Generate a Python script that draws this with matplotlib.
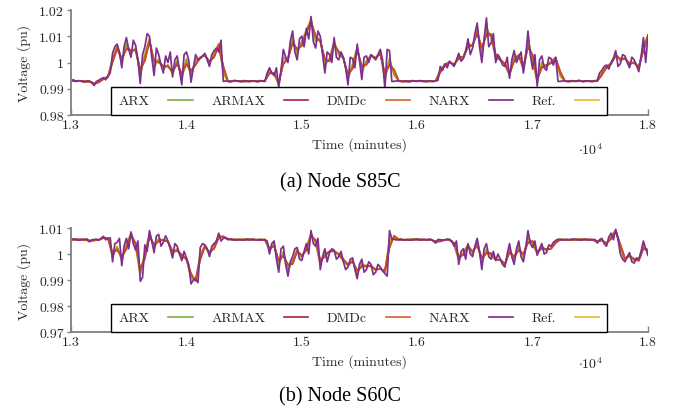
import numpy as np
import matplotlib
matplotlib.use("Agg")
import matplotlib.pyplot as plt
from matplotlib.ticker import FixedLocator, FuncFormatter

# Sampling instants (minutes): linear models logged every 40 min, NARX every 20 min
time_min = np.arange(13000, 18001, 40)
time_fine = np.arange(13000, 18001, 20)

# Node voltages as deviation from 1 pu, in units of 1e-4 pu
s85c_arx = [-67, -70, -71, -72, -72, -82, -73, -61, -55, 12,
            60, 2, 68, 38, 53, -46, 28, 88, -15, 12,
            -24, -10, -41, 6, -58, 12, -49, 7, 19, 29,
            -3, 30, 70, -38, -71, -71, -70, -72, -72, -71,
            -70, -70, -72, -33, -43, -82, 16, 12, 92, 35,
            80, 120, 160, 82, 88, -8, 14, 78, 30, 17,
            -60, -8, 55, -34, 5, 28, 15, 40, -66, 12,
            -46, -71, -71, -72, -70, -70, -71, -71, -72, -70,
            -30, -8, 2, -10, 22, 20, 70, 63, 125, 35,
            130, 96, 18, 11, -8, -48, 20, 26, -25, 84,
            8, -72, -2, -17, 4, 18, -50, -71, -71, -72,
            -70, -71, -72, -71, -70, -41, -15, -3, 33, 7,
            18, -9, 3, -24, 65, 100]
s85c_armax = [-69, -72, -70, -72, -73, -80, -76, -64, -56, 0,
              52, 16, 50, 48, 45, -24, 6, 80, 8, 0,
              -13, -15, -33, -6, -42, -7, -31, -9, 18, 27,
              5, 20, 63, -14, -71, -72, -70, -71, -72, -70,
              -72, -71, -70, -42, -40, -74, -6, 15, 72, 52,
              64, 114, 154, 102, 80, 14, 4, 66, 43, 16,
              -44, -24, 46, -13, -9, 25, 18, 33, -42, -10,
              -27, -70, -71, -73, -71, -70, -72, -71, -71, -71,
              -38, -12, 0, -6, 14, 22, 58, 66, 110, 57,
              104, 108, 32, 8, -3, -40, 4, 28, -16, 58,
              30, -62, -20, -9, -3, 16, -35, -70, -72, -70,
              -70, -72, -70, -72, -71, -48, -20, -6, 25, 15,
              14, -2, -2, -16, 44, 98]
s85c_dmdc = [-68, -71, -71, -73, -72, -82, -75, -62, -54, 5,
             58, 12, 55, 46, 49, -29, 11, 86, 3, 2,
             -16, -14, -36, -3, -47, -4, -35, -7, 20, 28,
             3, 24, 68, -19, -72, -71, -71, -72, -71, -71,
             -71, -70, -71, -38, -40, -79, -1, 18, 78, 49,
             69, 120, 159, 97, 84, 9, 6, 72, 40, 17,
             -48, -20, 51, -18, -7, 28, 17, 36, -48, -6,
             -31, -71, -72, -72, -70, -71, -71, -72, -72, -70,
             -34, -9, 2, -8, 18, 22, 64, 67, 117, 53,
             111, 108, 26, 10, -5, -44, 8, 29, -19, 64,
             26, -67, -15, -11, -1, 18, -40, -71, -71, -71,
             -69, -71, -71, -71, -70, -44, -17, -4, 29, 13,
             15, -4, -1, -19, 50, 102]
s85c_narx = [-68, -66, -72, -69, -70, -73, -74, -70, -71, -75,
             -88, -72, -68, -62, -58, -66, -52, -40, 35, 60,
             70, 40, -20, 60, 95, 50, 20, 85, 65, 10,
             -80, 30, 60, 110, 100, 20, -50, 55, 30, -10,
             -40, 25, 0, 40, -55, 10, 25, -30, -85, 30,
             40, 10, -75, -20, 30, 10, 15, 25, 35, 10,
             -15, 30, 45, 55, 40, 85, -72, -70, -72, -74,
             -70, -68, -71, -72, -73, -69, -70, -73, -72, -70,
             -71, -74, -69, -71, -72, -40, -20, -40, -50, -20,
             -95, -30, 50, 20, 0, 80, 120, 40, 10, 90,
             100, 60, 130, 90, 175, 80, 55, 120, 100, 30,
             -40, 40, 30, 0, 95, 20, 10, 40, 20, -20,
             -85, 20, 15, -20, 70, 10, -65, 20, 25, 0,
             30, 20, 10, 30, 50, 10, -100, 50, 45, -72,
             -72, -70, -70, -72, -73, -70, -71, -73, -69, -71,
             -72, -69, -70, -72, -73, -70, -71, -73, -70, -68,
             -15, -30, -5, -20, 5, -5, -15, 10, 35, 5,
             15, 40, 90, 30, 55, 110, 150, 60, 0, 90,
             170, 60, 75, 110, 0, 30, 15, -10, -15, 20,
             -60, 10, 45, 0, 20, 40, -40, 20, 120, 30,
             -25, 30, -90, 10, 25, -20, -30, 20, 15, -10,
             20, -72, -72, -70, -70, -73, -72, -69, -71, -72,
             -68, -71, -73, -70, -70, -72, -72, -69, -69, -40,
             -30, -15, -10, -25, 0, 15, 45, -15, -5, 30,
             25, 0, -20, 20, 10, -10, -35, 20, 95, 0,
             105]
s85c_ref = [-68, -71, -70, -73, -72, -85, -72, -60, -53, 18,
            63, -2, 72, 35, 56, -51, 32, 92, -20, 14,
            -26, -8, -44, 9, -63, 15, -52, 9, 18, 31,
            -5, 33, 73, -42, -72, -70, -71, -73, -71, -72,
            -71, -69, -71, -30, -44, -86, 21, 10, 96, 32,
            82, 124, 166, 79, 91, -12, 16, 82, 27, 18,
            -64, -5, 59, -38, 7, 29, 14, 42, -70, 16,
            -49, -70, -72, -71, -69, -71, -70, -72, -71, -70,
            -26, -7, 3, -11, 25, 19, 75, 62, 131, 30,
            136, 94, 15, 12, -9, -51, 24, 25, -28, 88,
            4, -77, 2, -19, 6, 19, -54, -70, -72, -71,
            -69, -72, -71, -72, -70, -38, -14, -2, 36, 5,
            19, -11, 4, -26, 69, 103]

s60c_arx = [56, 56, 55, 55, 50, 53, 55, 63, 61, -8,
            26, -22, 35, 78, 32, -76, 3, 75, 25, 58,
            52, 47, 2, 19, -11, -19, -90, -100, -4, 30,
            2, 27, 70, 65, 57, 55, 55, 56, 56, 55,
            55, 55, 56, 15, 37, -41, 6, -58, -28, 15,
            -12, 24, 77, 45, -38, 1, 9, 12, -3, -24,
            -44, -25, -75, -38, -49, -45, -62, -55, -68, 50,
            64, 56, 55, 55, 56, 56, 55, 55, 55, 47,
            50, 55, 55, 38, -22, 5, 33, 3, 42, -32,
            16, -5, -22, -22, -41, 18, -20, 28, -10, 62,
            40, 3, 28, 14, 23, 46, 55, 56, 55, 55,
            56, 55, 55, 54, 47, 54, 39, 66, 90, 24,
            -20, -4, -24, -24, 32, 8]
s60c_armax = [55, 55, 56, 55, 52, 52, 54, 61, 62, 6,
              15, -8, 18, 72, 42, -58, -18, 66, 38, 48,
              55, 47, 12, 12, -3, -20, -75, -104, -22, 28,
              8, 20, 62, 68, 58, 55, 56, 54, 55, 56,
              55, 54, 55, 23, 30, -23, -8, -40, -39, 10,
              -5, 14, 68, 54, -24, -11, 11, 10, 0, -20,
              -40, -30, -62, -50, -44, -48, -58, -58, -64, 24,
              70, 56, 55, 54, 56, 55, 55, 55, 54, 49,
              48, 55, 54, 42, -10, -4, 30, 10, 32, -14,
              2, 3, -20, -23, -37, 5, -9, 14, 0, 43,
              50, 8, 21, 19, 20, 42, 56, 54, 55, 55,
              56, 55, 56, 55, 49, 52, 42, 58, 87, 38,
              -16, -9, -18, -26, 20, 17]
s60c_dmdc = [55, 56, 55, 55, 50, 53, 54, 63, 61, 1,
             19, -13, 23, 76, 39, -63, -14, 71, 35, 50,
             55, 48, 8, 14, -6, -18, -80, -102, -17, 31,
             6, 22, 66, 67, 57, 56, 55, 55, 56, 56,
             54, 55, 55, 19, 33, -28, -5, -45, -36, 13,
             -8, 17, 72, 51, -28, -8, 10, 11, -1, -23,
             -43, -27, -67, -46, -46, -47, -60, -57, -66, 32,
             68, 55, 54, 55, 55, 56, 56, 54, 55, 47,
             50, 54, 55, 39, -16, -1, 33, 8, 35, -18,
             5, 1, -23, -22, -40, 9, -12, 18, -2, 48,
             48, 5, 24, 17, 21, 44, 55, 55, 54, 56,
             56, 56, 55, 55, 47, 54, 40, 62, 90, 33,
             -20, -7, -21, -25, 25, 14]
s60c_narx = [55, 57, 57, 53, 54, 56, 56, 58, 47, 54,
             56, 57, 53, 60, 68, 55, 58, 62, -30, 40,
             45, 60, -45, 30, 60, 20, 85, 40, 15, 50,
             -105, -90, 35, 10, 90, 50, 5, 70, 75, 30,
             45, 70, 50, 20, -15, 40, 30, 0, -25, 10,
             -15, -40, -115, -100, -95, -110, 25, 40, 35, 20,
             -10, 30, 40, 50, 80, 50, 60, 62, 55, 57,
             56, 54, 54, 56, 55, 54, 57, 55, 55, 57,
             54, 55, 56, 54, 55, 50, 0, 40, 50, -20,
             -70, 20, 30, -40, -85, -30, -10, 20, 25, -20,
             -25, 10, 40, 0, 90, 40, 30, 60, -60, -10,
             20, -30, 5, 20, 15, -20, -10, 10, -30, -60,
             -50, -20, -15, -60, -95, -40, -20, -70, -60, -30,
             -40, -80, -70, -40, -50, -65, -75, -85, 90, 58,
             56, 54, 55, 57, 54, 55, 56, 53, 55, 56,
             57, 54, 55, 56, 54, 57, 56, 50, 42, 56,
             55, 53, 54, 57, 56, 50, 30, 50, -40, 10,
             20, -20, 40, 0, -10, 30, 60, 10, -60, 20,
             40, -10, -20, 10, -25, 0, -20, -40, -50, 0,
             40, -10, -40, 20, 50, -10, -30, 20, 90, 40,
             25, 50, -5, 20, 40, 0, 5, 35, 30, 45,
             52, 57, 56, 54, 55, 56, 54, 57, 57, 55,
             55, 53, 56, 57, 54, 55, 55, 56, 42, 55,
             60, 40, 30, 65, 80, 55, 95, 60, 0, -20,
             -30, -10, 5, -30, -35, -15, -20, 10, 50, 20,
             -5]
s60c_ref = [55, 57, 55, 56, 49, 54, 54, 65, 60, -12,
            30, -27, 39, 80, 29, -81, 7, 79, 22, 61,
            51, 49, -2, 21, -14, -17, -95, -99, 1, 33,
            -1, 30, 72, 64, 56, 56, 54, 55, 57, 55,
            54, 56, 55, 11, 40, -46, 10, -62, -25, 18,
            -15, 27, 80, 42, -42, 4, 8, 13, -5, -26,
            -46, -22, -79, -35, -52, -44, -64, -54, -70, 57,
            63, 55, 54, 56, 55, 57, 55, 54, 56, 45,
            52, 54, 56, 35, -26, 8, 36, 0, 46, -36,
            20, -8, -24, -21, -44, 22, -24, 32, -14, 66,
            38, 1, 31, 12, 25, 48, 55, 55, 54, 56,
            55, 56, 54, 55, 45, 56, 36, 70, 92, 19,
            -24, -2, -27, -23, 36, 6]

series_names = ["ARX", "ARMAX", "DMDc", "NARX", "Ref."]
series_colors = {"ARX": "#77AC30", "ARMAX": "#A2142F", "DMDc": "#D95319",
                 "NARX": "#7E2F8E", "Ref.": "#EDB120"}
series_time = {"ARX": time_min, "ARMAX": time_min, "DMDc": time_min,
               "NARX": time_fine, "Ref.": time_min}
draw_order = ["Ref.", "ARX", "ARMAX", "DMDc", "NARX"]

x_ticks = [13000, 14000, 15000, 16000, 17000, 18000]
panels = [
    {"data": {"ARX": s85c_arx, "ARMAX": s85c_armax, "DMDc": s85c_dmdc,
              "NARX": s85c_narx, "Ref.": s85c_ref},
     "ylim": (0.98, 1.02), "yticks": [0.98, 0.99, 1.0, 1.01, 1.02],
     "caption": "(a) Node S85C"},
    {"data": {"ARX": s60c_arx, "ARMAX": s60c_armax, "DMDc": s60c_dmdc,
              "NARX": s60c_narx, "Ref.": s60c_ref},
     "ylim": (0.97, 1.01), "yticks": [0.97, 0.98, 0.99, 1.0, 1.01],
     "caption": "(b) Node S60C"},
]

plt.rcParams["font.family"] = ["cmr10", "DejaVu Serif"]
plt.rcParams["mathtext.fontset"] = "cm"
plt.rcParams["axes.formatter.use_mathtext"] = True

W, H = 681, 414
fig = plt.figure(figsize=(W / 100, H / 100), dpi=100)

# axes boxes in pixel terms: left, top, right, bottom
boxes = [(71, 11, 648, 116), (71, 229, 648, 333)]
caption_y = [183, 397]
offset_y = [150, 364]
axis_grey = "#808080"
text_col = "#262626"

for panel, (l, t, r, b), cy, oy in zip(panels, boxes, caption_y, offset_y):
    ax = fig.add_axes([l / W, 1 - b / H, (r - l) / W, (b - t) / H])
    handles = {}
    for name in draw_order:
        v = 1.0 + np.asarray(panel["data"][name]) / 1e4
        (ln,) = ax.plot(series_time[name], v, color=series_colors[name],
                        lw=1.25, alpha=1.0 if name == "NARX" else 0.9,
                        solid_joinstyle="round")
        handles[name] = ln

    ax.set_xlim(13000, 18000)
    ax.set_ylim(*panel["ylim"])
    ax.xaxis.set_major_locator(FixedLocator(x_ticks))
    ax.xaxis.set_major_formatter(FuncFormatter(lambda v, p: f"{v / 1e4:g}"))
    ax.yaxis.set_major_locator(FixedLocator(panel["yticks"]))
    ax.yaxis.set_major_formatter(FuncFormatter(lambda v, p: f"{v:g}"))

    for side in ("top", "right"):
        ax.spines[side].set_visible(False)
    for side in ("left", "bottom"):
        ax.spines[side].set_color(axis_grey)
        ax.spines[side].set_linewidth(1.3)
    ax.tick_params(axis="y", direction="out", length=3, width=1.0,
                   color=axis_grey, labelsize=10, labelcolor=text_col, pad=2)
    ax.tick_params(axis="x", direction="in", length=4, width=1.0,
                   color=axis_grey, labelsize=10, labelcolor=text_col, pad=3)

    ax.set_xlabel("Time (minutes)", fontsize=10, color=text_col, labelpad=4)
    ax.set_ylabel("Voltage (pu)", fontsize=10, color=text_col, labelpad=6)

    leg = ax.legend([handles[n] for n in series_names], series_names,
                    ncol=5, markerfirst=False, loc="lower left",
                    bbox_to_anchor=(40 / 577, 0.0, 496 / 577, 0.27),
                    mode="expand", borderaxespad=0, borderpad=0.55,
                    handlelength=1.75, handletextpad=1.35, fontsize=10,
                    frameon=True, fancybox=False, framealpha=1,
                    edgecolor="black")
    leg.get_frame().set_linewidth(1.0)
    for txt in leg.get_texts():
        txt.set_color(text_col)
    leg.set_zorder(5)

    fig.text(590 / W, 1 - oy / H, r"$\cdot 10^{4}$", ha="center",
             va="center", fontsize=10, color=text_col)
    fig.text(340 / W, 1 - cy / H, panel["caption"], ha="center",
             va="center", fontsize=14.5, family="Liberation Serif",
             color="black")

fig.savefig("out.png", dpi=100)
